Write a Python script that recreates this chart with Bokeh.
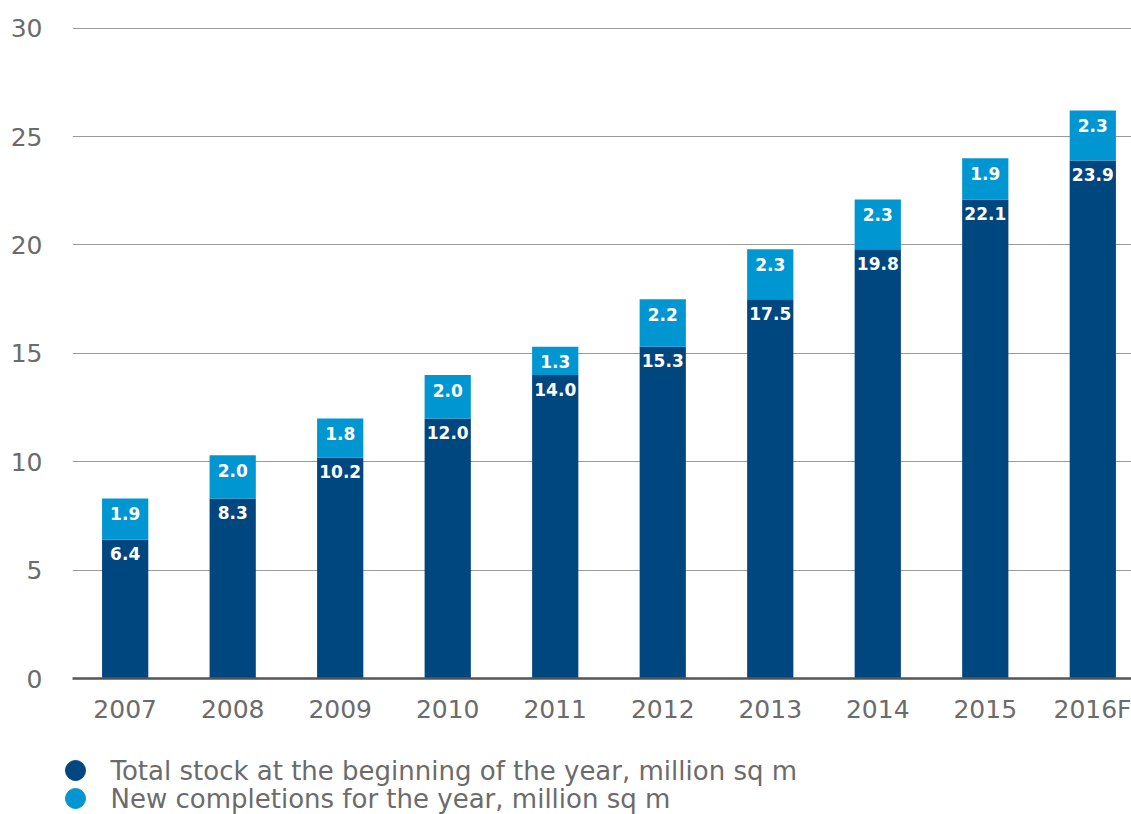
from bokeh.plotting import figure
from bokeh.models import Range1d, FixedTicker, ColumnDataSource
from bokeh.layouts import column, row
from bokeh.core.properties import value
from bokeh.embed import file_html
from bokeh.resources import INLINE

years = ["2007", "2008", "2009", "2010", "2011", "2012", "2013", "2014", "2015", "2016F"]
total_stock = [6.4, 8.3, 10.2, 12.0, 14.0, 15.3, 17.5, 19.8, 22.1, 23.9]
new_completions = [1.9, 2.0, 1.8, 2.0, 1.3, 2.2, 2.3, 2.3, 1.9, 2.3]
y_ticks = [0, 5, 10, 15, 20, 25, 30]
legend_labels = ["Total stock at the beginning of the year, million sq m",
                 "New completions for the year, million sq m"]

DARK = "#00467f"
LIGHT = "#0096d1"
GREY_TXT = "#6b6b6b"
W = 1131

idx = list(range(len(years)))
tops = [a + b for a, b in zip(total_stock, new_completions)]
src = ColumnDataSource(dict(
    x=idx, stock=total_stock, new=new_completions, top=tops,
    stock_lbl=[f"{v:.1f}" for v in total_stock],
    new_lbl=[f"{v:.1f}" for v in new_completions],
))

p = figure(width=W, height=735, output_backend="svg", toolbar_location=None,
           x_range=Range1d(-0.49, 9.36), y_range=Range1d(0, 30.08),
           min_border_left=72, min_border_right=0, min_border_top=26, min_border_bottom=57)
p.outline_line_color = None
p.background_fill_color = "white"

p.vbar(x="x", bottom=0, top="stock", width=0.43, color=DARK, line_color=None, source=src)
p.vbar(x="x", bottom="stock", top="top", width=0.43, color=LIGHT, line_color=None, source=src)

lbl_font = value("DejaVu Sans")
p.text(x="x", y="stock", text="stock_lbl", source=src, text_color="white",
       text_font=lbl_font, text_font_style="bold", text_font_size="17px",
       text_align="center", text_baseline="middle", y_offset=14)
p.text(x="x", y="top", text="new_lbl", source=src, text_color="white",
       text_font=lbl_font, text_font_style="bold", text_font_size="17px",
       text_align="center", text_baseline="middle", y_offset=15)

# axes
p.xaxis.ticker = FixedTicker(ticks=idx)
p.xaxis.major_label_overrides = {i: y for i, y in zip(idx, years)}
p.xaxis.major_tick_line_color = None
p.xaxis.minor_tick_line_color = None
p.xaxis.axis_line_color = "#555555"
p.xaxis.axis_line_width = 2.5
p.xaxis.major_label_text_font = "DejaVu Sans"
p.xaxis.major_label_text_font_size = "25px"
p.xaxis.major_label_text_color = GREY_TXT
p.xaxis.major_label_standoff = 10

p.yaxis.ticker = FixedTicker(ticks=y_ticks)
p.yaxis.axis_line_color = None
p.yaxis.major_tick_line_color = None
p.yaxis.minor_tick_line_color = None
p.yaxis.major_label_text_font = "DejaVu Sans"
p.yaxis.major_label_text_font_size = "25px"
p.yaxis.major_label_text_color = GREY_TXT
p.yaxis.major_label_standoff = 24

p.xgrid.grid_line_color = None
p.ygrid.grid_line_color = "#9a9a9a"
p.ygrid.grid_line_width = 1

# legend strip below the chart (pixel-like coordinates for layout only)
q = figure(width=W, height=79, output_backend="svg", toolbar_location=None,
           x_range=Range1d(0, W), y_range=Range1d(0, 79),
           x_axis_location=None, y_axis_location=None,
           min_border=0, min_border_left=0, min_border_right=0, min_border_top=0, min_border_bottom=0)
q.grid.grid_line_color = None
q.outline_line_color = None
leg_src = ColumnDataSource(dict(
    cx=[75, 75], cy=[44, 16], tx=[110, 110],
    label=legend_labels, color=[DARK, LIGHT],
))
q.scatter(x="cx", y="cy", marker="circle", size=20, color="color", source=leg_src)
q.text(x="tx", y="cy", text="label", source=leg_src, text_color=GREY_TXT,
       text_font=value("DejaVu Sans"), text_font_size="26px",
       text_align="left", text_baseline="middle")

layout = column(p, row(q), spacing=0)
open("out.html", "w").write(file_html(layout, INLINE))
